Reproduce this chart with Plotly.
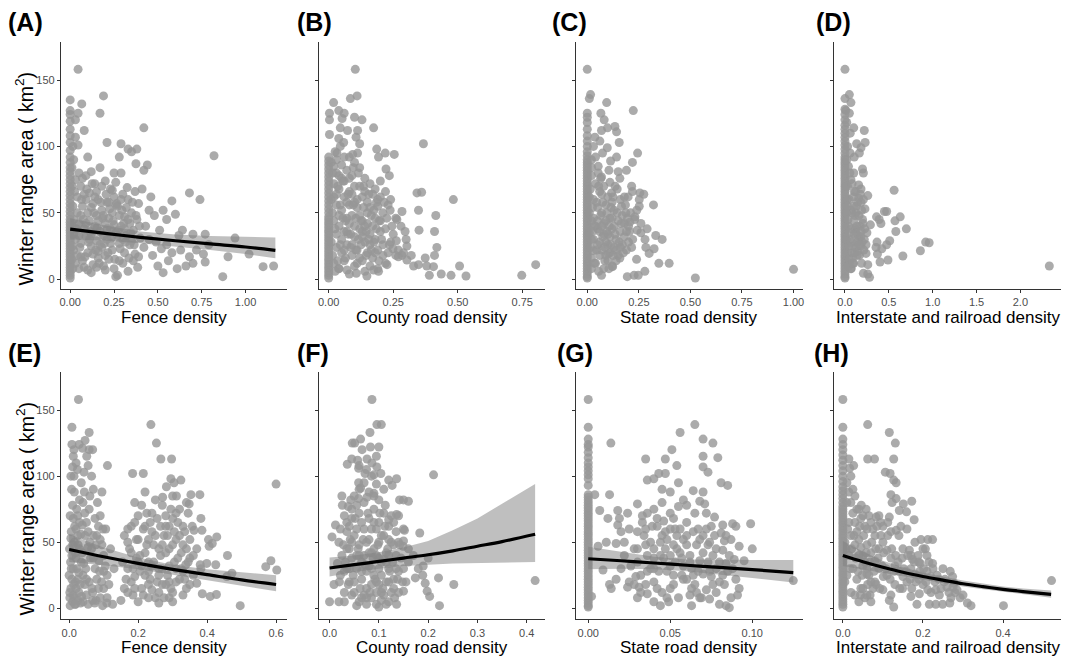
import plotly.graph_objects as go

# ---------------- data ----------------
# Top row: winter range area vs. covariate (points with x = 0 listed separately)
fence_top_zero_y = [1, 3, 5, 7, 9, 11, 13, 15, 17, 19, 21, 23, 25, 27, 29, 31, 33, 35, 37, 39, 41, 43, 45,
                    48, 51, 54, 57, 60, 63, 66, 69, 72, 75, 78, 81, 84, 88, 92, 97, 103, 108, 113, 119, 124,
                    127, 135]
fence_top_pts = [
    (0.045, 158), (0.19, 138), (0.066, 132), (0.17, 125), (0.045, 125), (0.03, 120), (0.08, 112), (0.03, 107),
    (0.045, 101), (0.21, 103), (0.29, 102), (0.42, 114), (0.33, 98), (0.38, 98), (0.35, 96), (0.375, 87),
    (0.44, 86), (0.42, 82), (0.28, 92), (0.10, 92), (0.29, 80), (0.25, 80), (0.17, 84), (0.05, 80), (0.12, 81),
    (0.82, 93),
    (0.03, 75), (0.06, 70), (0.09, 78), (0.11, 65), (0.14, 72), (0.16, 60), (0.2, 74), (0.23, 68), (0.26, 73),
    (0.3, 64), (0.33, 60), (0.37, 66), (0.39, 57), (0.04, 62), (0.07, 55), (0.1, 50), (0.13, 57), (0.15, 48),
    (0.18, 52), (0.21, 58), (0.24, 50), (0.27, 55), (0.31, 47), (0.35, 50), (0.38, 45), (0.02, 45), (0.05, 42),
    (0.08, 38), (0.11, 44), (0.14, 40), (0.17, 36), (0.2, 42), (0.23, 38), (0.26, 35), (0.29, 40), (0.32, 33),
    (0.36, 37), (0.4, 31), (0.03, 30), (0.06, 27), (0.09, 32), (0.12, 25), (0.15, 29), (0.18, 24), (0.21, 30),
    (0.24, 22), (0.28, 27), (0.31, 20), (0.34, 26), (0.37, 19), (0.04, 18), (0.07, 14), (0.1, 20), (0.13, 11),
    (0.16, 16), (0.19, 10), (0.22, 15), (0.25, 8), (0.27, 3), (0.3, 12), (0.33, 6), (0.36, 14), (0.39, 17),
    (0.05, 8), (0.08, 9), (0.12, 5), (0.2, 7), (0.26, 2), (0.15, 66), (0.22, 46), (0.34, 42), (0.09, 60),
    (0.19, 33), (0.28, 48), (0.06, 48), (0.12, 34), (0.25, 62), (0.32, 54), (0.02, 22), (0.16, 21), (0.3, 30),
    (0.45, 52), (0.48, 48), (0.53, 52), (0.58, 59), (0.6, 49), (0.55, 45), (0.51, 37), (0.64, 37), (0.68, 65),
    (0.74, 60), (0.7, 34), (0.77, 34), (0.62, 33), (0.94, 31), (0.55, 26), (0.52, 23), (0.63, 22), (0.72, 22),
    (0.76, 19), (0.68, 17), (0.7, 12), (0.77, 13), (0.9, 17), (1.02, 19), (1.1, 9.5), (1.16, 10), (0.87, 2),
    (0.45, 30), (0.43, 40), (0.47, 18), (0.5, 10), (0.56, 14), (0.42, 24), (0.46, 62), (0.41, 68), (0.49, 28),
    (0.58, 20), (0.53, 5), (0.61, 8), (0.66, 10), (0.79, 26),
    (0.015, 55), (0.025, 66), (0.035, 38), (0.055, 24), (0.065, 60), (0.075, 45), (0.085, 17), (0.095, 68),
    (0.105, 28), (0.115, 36), (0.125, 72), (0.135, 50), (0.145, 22), (0.155, 39), (0.165, 12), (0.175, 58),
    (0.185, 46), (0.195, 27), (0.205, 64), (0.215, 20), (0.225, 53), (0.235, 31), (0.245, 44), (0.255, 15),
    (0.265, 57), (0.275, 37), (0.285, 23), (0.295, 52), (0.305, 42), (0.315, 28), (0.325, 69), (0.335, 16),
    (0.345, 35), (0.355, 58), (0.365, 26), (0.375, 48), (0.385, 9), (0.395, 40), (0.01, 70), (0.02, 34),
    (0.03, 12), (0.04, 50), (0.05, 33), (0.06, 17), (0.07, 76), (0.08, 64), (0.09, 42), (0.1, 7), (0.11, 30),
    (0.12, 54), (0.13, 19), (0.14, 62), (0.15, 9), (0.16, 44), (0.17, 26), (0.18, 70), (0.19, 48), (0.2, 18),
    (0.21, 38), (0.22, 58), (0.23, 27), (0.24, 67), (0.25, 41), (0.26, 56), (0.27, 33), (0.28, 14), (0.29, 60),
    (0.31, 38), (0.33, 45), (0.35, 29), (0.01, 15), (0.02, 90), (0.015, 100), (0.01, 40), (0.012, 25),
    (0.01, 84), (0.015, 8)]

county_top_zero_y = [1, 3, 5, 7, 9, 11, 13, 15, 17, 19, 21, 23, 25, 27, 29, 31, 33, 35, 37, 39, 41, 43, 45, 47,
                     50, 53, 56, 59, 62, 65, 68, 71, 74, 77, 80, 83, 86, 89, 92]
county_top_pts = [
    (0.103, 158), (0.084, 136), (0.11, 138), (0.019, 133), (0.003, 125), (0.003, 120), (0.039, 127),
    (0.052, 121), (0.06, 125), (0.1, 122), (0.129, 120), (0.045, 114), (0.073, 112), (0.112, 112),
    (0.174, 114), (0.003, 109), (0.039, 106), (0.058, 103), (0.106, 107), (0.12, 102), (0.186, 98),
    (0.093, 94), (0.112, 95), (0.193, 92), (0.219, 95), (0.254, 94), (0.367, 102), (0.08, 92), (0.032, 95),
    (0.222, 83), (0.235, 78), (0.342, 65), (0.36, 65.5), (0.483, 60), (0.348, 52), (0.415, 48), (0.284, 51),
    (0.264, 45), (0.238, 52), (0.41, 36), (0.296, 36), (0.35, 37), (0.419, 24), (0.262, 29), (0.303, 25),
    (0.249, 23), (0.374, 16), (0.41, 18), (0.348, 11), (0.38, 10), (0.406, 9.5), (0.39, 3), (0.436, 4),
    (0.474, 3), (0.507, 10), (0.532, 2.5), (0.748, 3), (0.802, 11), (0.329, 10), (0.303, 14.5), (0.284, 18),
    (0.27, 17), (0.226, 11), (0.193, 6), (0.174, 7), (0.148, 2.5), (0.107, 4.5), (0.071, 7), (0.039, 8),
    (0.01, 88), (0.02, 85), (0.03, 80), (0.05, 86), (0.07, 82), (0.09, 78), (0.12, 84), (0.14, 76), (0.16, 72),
    (0.18, 68), (0.2, 74), (0.22, 66), (0.24, 60), (0.02, 72), (0.04, 68), (0.06, 74), (0.08, 66), (0.1, 70),
    (0.13, 62), (0.15, 58), (0.17, 64), (0.19, 55), (0.21, 50), (0.23, 56), (0.26, 46), (0.01, 60), (0.03, 56),
    (0.05, 52), (0.07, 58), (0.09, 48), (0.11, 54), (0.13, 44), (0.15, 50), (0.17, 40), (0.2, 44), (0.22, 38),
    (0.25, 34), (0.28, 40), (0.02, 44), (0.04, 40), (0.06, 36), (0.08, 42), (0.1, 32), (0.12, 38), (0.14, 28),
    (0.16, 34), (0.18, 30), (0.21, 26), (0.24, 28), (0.27, 22), (0.3, 30), (0.01, 28), (0.03, 24), (0.05, 20),
    (0.07, 26), (0.09, 18), (0.11, 22), (0.13, 14), (0.15, 20), (0.17, 16), (0.19, 22), (0.22, 12), (0.26, 18),
    (0.29, 20), (0.32, 18), (0.02, 12), (0.04, 8), (0.06, 14), (0.08, 4), (0.1, 10), (0.12, 16), (0.14, 6),
    (0.16, 10), (0.19, 8), (0.23, 20), (0.03, 64), (0.06, 62), (0.11, 60), (0.04, 78), (0.08, 56), (0.14, 66),
    (0.12, 48), (0.18, 46), (0.2, 36), (0.07, 46), (0.1, 40), (0.16, 26), (0.03, 34), (0.05, 30), (0.09, 26),
    (0.13, 32), (0.15, 42), (0.19, 60), (0.06, 92), (0.1, 88),
    (0.015, 50), (0.025, 38), (0.035, 70), (0.045, 26), (0.055, 46), (0.065, 16), (0.075, 64), (0.085, 34),
    (0.095, 56), (0.105, 22), (0.115, 80), (0.125, 44), (0.135, 54), (0.145, 36), (0.155, 64), (0.165, 22),
    (0.175, 52), (0.185, 38), (0.195, 14), (0.205, 30), (0.215, 58), (0.225, 46), (0.235, 26), (0.245, 40),
    (0.015, 18), (0.025, 6), (0.035, 14), (0.045, 56), (0.055, 74), (0.065, 44), (0.075, 34), (0.085, 24),
    (0.095, 84), (0.105, 46), (0.115, 30), (0.125, 26), (0.135, 70), (0.145, 18), (0.155, 30), (0.165, 48),
    (0.175, 28), (0.185, 58), (0.195, 44), (0.21, 18), (0.02, 62), (0.04, 48), (0.06, 22), (0.08, 76),
    (0.1, 58), (0.12, 70), (0.14, 40), (0.16, 54), (0.18, 20), (0.2, 62), (0.03, 90), (0.05, 76), (0.07, 36),
    (0.09, 64), (0.11, 12), (0.13, 36), (0.015, 80), (0.025, 96), (0.045, 100)]

state_top_zero_y = [1, 2, 4, 6, 8, 10, 12, 14, 16, 18, 20, 22, 24, 26, 28, 30, 32, 34, 36, 38, 40, 42, 44, 46,
                    48, 50, 52, 54, 56, 58, 60, 62, 64, 66, 68, 70, 72, 74, 76, 78, 80, 82, 84, 86, 88, 90, 93,
                    96, 100, 104, 108, 113, 118, 122, 125, 158]
state_top_pts = [
    (0.01, 136), (0.016, 139), (0.094, 133), (0.223, 127), (0.066, 125), (0.082, 120), (0.069, 112),
    (0.098, 114), (0.134, 115), (0.142, 111), (0.037, 107), (0.061, 104), (0.097, 99), (0.155, 103),
    (0.074, 95), (0.142, 92), (0.244, 95), (0.219, 88), (0.113, 89), (0.053, 85), (0.105, 82), (0.15, 81),
    (0.19, 82), (0.053, 80), (0.021, 84), (0.069, 77), (0.11, 73), (0.158, 76), (0.215, 70), (0.255, 65),
    (0.274, 64), (0.252, 60), (0.321, 56), (0.252, 55), (0.219, 66), (0.198, 62), (0.145, 68), (0.118, 65),
    (0.166, 55), (0.187, 50), (0.231, 47), (0.206, 43), (0.242, 37), (0.29, 38), (0.26, 35), (0.332, 33),
    (0.363, 30), (0.284, 24), (0.324, 23), (0.239, 15), (0.3, 19.5), (0.347, 12), (0.397, 12), (0.279, 6),
    (0.247, 3), (0.227, 3), (0.194, 2), (0.524, 1), (1.0, 7.5), (0.123, 9.5), (0.069, 3), (0.158, 16),
    (0.102, 19.5), (0.029, 21.5),
    (0.02, 78), (0.04, 72), (0.06, 66), (0.08, 70), (0.1, 62), (0.12, 58), (0.03, 60), (0.05, 54), (0.07, 50),
    (0.09, 56), (0.11, 46), (0.13, 52), (0.15, 44), (0.17, 48), (0.02, 44), (0.04, 40), (0.06, 36), (0.08, 42),
    (0.1, 34), (0.12, 38), (0.14, 30), (0.16, 36), (0.18, 32), (0.2, 28), (0.03, 30), (0.05, 26), (0.07, 22),
    (0.09, 28), (0.11, 20), (0.13, 24), (0.15, 18), (0.17, 26), (0.19, 22), (0.22, 30), (0.02, 16), (0.04, 12),
    (0.06, 18), (0.08, 8), (0.1, 14), (0.12, 10), (0.14, 22), (0.01, 50), (0.03, 46), (0.02, 30), (0.05, 38),
    (0.07, 64), (0.09, 44), (0.11, 32), (0.13, 40), (0.16, 60), (0.18, 42), (0.21, 50), (0.23, 45), (0.06, 28),
    (0.1, 26), (0.14, 14), (0.19, 36), (0.01, 35), (0.02, 8), (0.08, 34),
    (0.015, 68), (0.025, 54), (0.035, 40), (0.045, 22), (0.055, 70), (0.065, 48), (0.075, 32), (0.085, 14),
    (0.095, 50), (0.105, 40), (0.115, 26), (0.125, 62), (0.135, 34), (0.145, 50), (0.155, 28), (0.165, 42),
    (0.175, 20), (0.185, 56), (0.195, 46), (0.205, 36), (0.215, 24), (0.015, 24), (0.025, 36), (0.035, 12),
    (0.045, 58), (0.055, 6), (0.065, 76), (0.075, 58), (0.085, 24), (0.095, 36), (0.105, 8), (0.115, 54),
    (0.125, 18), (0.135, 70), (0.01, 62), (0.02, 90), (0.03, 100), (0.04, 92), (0.05, 44), (0.07, 40),
    (0.09, 18), (0.12, 46), (0.16, 24), (0.18, 62), (0.2, 40), (0.24, 52), (0.26, 42), (0.28, 30)]

inter_top_zero_y = [1, 2, 4, 6, 8, 10, 12, 14, 16, 18, 20, 22, 24, 26, 28, 30, 32, 34, 36, 38, 40, 42, 44, 46,
                    48, 50, 52, 54, 56, 58, 60, 62, 64, 66, 68, 70, 72, 74, 76, 78, 80, 82, 84, 86, 88, 90, 92,
                    95, 98, 101, 104, 107, 110, 113, 116, 120, 124, 128, 136, 158]
inter_top_pts = [
    (0.05, 139), (0.068, 133), (0.01, 127), (0.05, 125), (0.1, 114), (0.22, 112), (0.23, 103), (0.133, 102),
    (0.183, 99), (0.164, 95), (0.106, 92), (0.2, 83), (0.21, 80), (0.1, 80), (0.068, 75), (0.156, 71),
    (0.183, 68), (0.106, 66), (0.26, 63), (0.56, 67), (0.156, 61), (0.183, 58), (0.228, 53), (0.125, 50),
    (0.36, 47), (0.475, 51), (0.45, 51), (0.41, 42), (0.39, 45), (0.29, 41), (0.57, 44), (0.63, 47), (0.7, 38),
    (0.58, 36), (0.51, 29), (0.475, 26), (0.365, 28), (0.354, 24), (0.42, 23), (0.92, 28), (0.96, 27.5),
    (0.86, 21.5), (0.66, 17.5), (0.49, 14.5), (0.4, 13), (0.37, 19), (0.26, 11), (0.21, 4.5), (0.26, 4),
    (0.28, 1.5), (2.33, 10), (0.125, 35), (0.18, 32), (0.24, 26), (0.145, 21), (0.087, 16), (0.068, 8),
    (0.24, 19.5), (0.05, 12),
    (0.03, 70), (0.05, 60), (0.08, 50), (0.1, 44), (0.12, 38), (0.15, 33), (0.04, 40), (0.06, 30), (0.09, 25),
    (0.11, 20), (0.14, 28), (0.17, 40), (0.2, 45), (0.13, 55), (0.16, 48), (0.03, 20), (0.05, 15), (0.07, 8),
    (0.1, 12), (0.18, 25), (0.22, 30), (0.19, 52), (0.02, 50), (0.04, 85), (0.03, 100), (0.06, 110),
    (0.02, 118),
    (0.015, 30), (0.025, 60), (0.035, 45), (0.045, 25), (0.055, 80), (0.065, 52), (0.075, 38), (0.085, 20),
    (0.095, 62), (0.105, 34), (0.115, 48), (0.125, 24), (0.135, 40), (0.145, 58), (0.155, 30), (0.165, 18),
    (0.175, 64), (0.185, 36), (0.195, 28), (0.205, 42), (0.215, 22), (0.225, 38), (0.01, 70), (0.02, 90),
    (0.03, 55), (0.04, 10), (0.05, 35), (0.06, 95), (0.07, 28), (0.08, 72), (0.09, 12), (0.1, 55), (0.12, 66),
    (0.14, 18), (0.16, 26), (0.19, 12), (0.21, 60), (0.25, 35)]

# Bottom row
fence_bot_pts = [
    (0.027, 158), (0.008, 137), (0.058, 133), (0.046, 127), (0.029, 124), (0.014, 120), (0.039, 121),
    (0.058, 120), (0.068, 120), (0.008, 124), (0.051, 115), (0.055, 108), (0.111, 108), (0.01, 107),
    (0.024, 105), (0.014, 100), (0.043, 103), (0.184, 102), (0.215, 102), (0.237, 139), (0.253, 125),
    (0.266, 113), (0.297, 113), (0.295, 98), (0.304, 95), (0.324, 97), (0.282, 92), (0.271, 84), (0.311, 85),
    (0.353, 86), (0.379, 86), (0.348, 79), (0.382, 68), (0.357, 62), (0.385, 59), (0.404, 52), (0.415, 49),
    (0.428, 54), (0.406, 47), (0.399, 34), (0.425, 33), (0.382, 30), (0.37, 19), (0.386, 11), (0.409, 9),
    (0.427, 10.5), (0.459, 40), (0.457, 24), (0.472, 26.5), (0.496, 2), (0.57, 31.5), (0.585, 36),
    (0.602, 29), (0.6, 94), (0.362, 59), (0.338, 33), (0.068, 6), (0.097, 2), (0.109, 4), (0.126, 3),
    (0.15, 6),
    (0.0, 25), (0.005, 15), (0.01, 5), (0.003, 2), (0.012, 10), (0.018, 20), (0.022, 30), (0.008, 40),
    (0.015, 50), (0.005, 53), (0.02, 60), (0.025, 70), (0.01, 78), (0.03, 82), (0.015, 88), (0.035, 95),
    (0.04, 80), (0.045, 72), (0.05, 65), (0.055, 58), (0.06, 50), (0.065, 45), (0.07, 38), (0.075, 30),
    (0.08, 22), (0.085, 15), (0.09, 8), (0.03, 45), (0.035, 35), (0.04, 25), (0.045, 18), (0.05, 10),
    (0.055, 3), (0.028, 12), (0.033, 4), (0.06, 85), (0.07, 90), (0.065, 100), (0.075, 68), (0.08, 55),
    (0.085, 62), (0.09, 70), (0.095, 48), (0.1, 40), (0.105, 32), (0.11, 25), (0.1, 15), (0.095, 88),
    (0.02, 110), (0.005, 100), (0.012, 68), (0.02, 38), (0.025, 22), (0.04, 5), (0.048, 30), (0.058, 20),
    (0.068, 12), (0.078, 6), (0.088, 28), (0.098, 60), (0.115, 18), (0.12, 45), (0.13, 30), (0.025, 55),
    (0.038, 63), (0.002, 8), (0.006, 30), (0.013, 18), (0.017, 3), (0.001, 45),
    (0.002, 12), (0.004, 35), (0.006, 58), (0.008, 22), (0.01, 48), (0.012, 30), (0.014, 8), (0.016, 62),
    (0.018, 42), (0.02, 15), (0.022, 75), (0.024, 6), (0.026, 48), (0.028, 27), (0.03, 65), (0.032, 18),
    (0.034, 56), (0.036, 9), (0.038, 42), (0.042, 34), (0.044, 88), (0.046, 55), (0.05, 22), (0.054, 46),
    (0.058, 75), (0.062, 38), (0.066, 15), (0.07, 55), (0.074, 4), (0.078, 48), (0.082, 80), (0.086, 36),
    (0.09, 52), (0.094, 20), (0.1, 28), (0.106, 60), (0.11, 8), (0.003, 70), (0.007, 90), (0.012, 115),
    (0.018, 3),
    (0.16, 55), (0.17, 30), (0.175, 45), (0.18, 20), (0.185, 10), (0.19, 65), (0.195, 38), (0.2, 52),
    (0.205, 28), (0.21, 15), (0.215, 60), (0.22, 42), (0.225, 72), (0.23, 35), (0.235, 22), (0.24, 58),
    (0.245, 48), (0.25, 8), (0.255, 68), (0.26, 30), (0.265, 40), (0.27, 18), (0.275, 55), (0.28, 62),
    (0.285, 25), (0.29, 45), (0.295, 75), (0.3, 12), (0.305, 35), (0.31, 52), (0.315, 65), (0.32, 22),
    (0.325, 42), (0.33, 28), (0.335, 58), (0.34, 15), (0.345, 72), (0.35, 38), (0.19, 80), (0.21, 78),
    (0.25, 82), (0.28, 70), (0.3, 68), (0.3, 5), (0.26, 12), (0.2, 5), (0.17, 60), (0.22, 25), (0.27, 48),
    (0.31, 30), (0.24, 32), (0.29, 20), (0.18, 42), (0.23, 52), (0.33, 48), (0.36, 25), (0.37, 45),
    (0.38, 33), (0.26, 4), (0.29, 8), (0.33, 10), (0.35, 18), (0.23, 18), (0.2, 35), (0.16, 15),
    (0.155, 35), (0.165, 22), (0.17, 50), (0.18, 62), (0.185, 30), (0.19, 15), (0.195, 52), (0.2, 70),
    (0.205, 40), (0.21, 32), (0.215, 10), (0.22, 62), (0.225, 48), (0.23, 28), (0.235, 65), (0.24, 14),
    (0.245, 35), (0.25, 55), (0.255, 20), (0.26, 45), (0.265, 62), (0.27, 30), (0.275, 8), (0.28, 42),
    (0.285, 55), (0.29, 32), (0.295, 15), (0.3, 48), (0.305, 58), (0.31, 20), (0.315, 38), (0.32, 55),
    (0.325, 30), (0.33, 62), (0.335, 22), (0.34, 45), (0.345, 35), (0.35, 52), (0.36, 40), (0.22, 88),
    (0.24, 72), (0.27, 78), (0.3, 85), (0.32, 75), (0.29, 62), (0.31, 72), (0.34, 80), (0.26, 25),
    (0.28, 18), (0.23, 8), (0.19, 24), (0.17, 12)]

county_bot_pts = [
    (0.086, 158), (0.096, 139), (0.105, 139), (0.082, 133), (0.063, 128), (0.046, 125), (0.051, 125),
    (0.083, 122), (0.1, 122), (0.066, 120), (0.045, 113), (0.036, 109), (0.057, 112), (0.076, 113),
    (0.086, 110), (0.095, 115), (0.096, 107), (0.059, 106), (0.072, 102), (0.09, 101), (0.104, 102),
    (0.12, 97), (0.136, 98), (0.211, 101), (0.127, 93), (0.059, 95), (0.095, 94), (0.063, 91), (0.09, 87),
    (0.059, 83), (0.043, 82), (0.026, 78), (0.038, 77), (0.076, 84), (0.113, 78), (0.142, 82), (0.16, 81),
    (0.15, 82), (0.136, 71), (0.12, 67), (0.152, 59), (0.183, 57), (0.012, 63), (0.005, 54), (0.019, 50),
    (0.15, 51), (0.149, 47), (0.174, 23), (0.189, 25), (0.194, 19), (0.221, 23), (0.198, 13), (0.203, 9),
    (0.252, 18), (0.223, 2), (0.417, 21), (0.15, 13), (0.136, 3), (0.1, 1), (0.019, 5), (0.0, 5),
    (0.009, 18), (0.022, 25), (0.016, 34),
    (0.03, 70), (0.04, 62), (0.05, 55), (0.06, 48), (0.07, 40), (0.08, 32), (0.09, 25), (0.1, 18), (0.11, 10),
    (0.12, 5), (0.13, 15), (0.14, 28), (0.035, 45), (0.045, 38), (0.055, 30), (0.065, 22), (0.075, 15),
    (0.085, 8), (0.095, 3), (0.105, 35), (0.115, 42), (0.125, 50), (0.135, 58), (0.145, 38), (0.03, 28),
    (0.04, 20), (0.05, 12), (0.06, 5), (0.07, 60), (0.08, 68), (0.09, 75), (0.1, 65), (0.11, 55), (0.12, 30),
    (0.13, 22), (0.14, 12), (0.06, 72), (0.07, 80), (0.08, 52), (0.09, 45), (0.1, 50), (0.11, 72), (0.12, 62),
    (0.05, 85), (0.065, 35), (0.075, 28), (0.085, 42), (0.095, 60), (0.105, 25), (0.115, 20), (0.125, 12),
    (0.135, 40), (0.045, 10), (0.055, 2), (0.065, 8), (0.075, 3), (0.085, 18), (0.095, 12), (0.105, 6),
    (0.115, 3), (0.025, 40), (0.02, 20), (0.03, 12), (0.035, 58), (0.045, 68), (0.055, 78), (0.04, 30),
    (0.08, 88), (0.07, 95), (0.06, 40), (0.1, 30), (0.12, 40), (0.13, 48), (0.15, 30), (0.155, 20),
    (0.16, 45), (0.09, 85), (0.1, 82), (0.085, 60), (0.11, 37), (0.12, 20), (0.14, 50), (0.15, 60),
    (0.16, 35), (0.17, 40), (0.18, 30), (0.2, 38), (0.19, 32),
    (0.022, 60), (0.028, 48), (0.032, 35), (0.038, 18), (0.042, 52), (0.048, 25), (0.052, 68), (0.058, 45),
    (0.062, 15), (0.068, 52), (0.072, 33), (0.078, 72), (0.082, 12), (0.088, 38), (0.092, 22), (0.098, 48),
    (0.102, 72), (0.108, 15), (0.112, 62), (0.118, 45), (0.122, 28), (0.128, 35), (0.132, 8), (0.138, 22),
    (0.142, 48), (0.148, 20), (0.025, 85), (0.035, 30), (0.045, 50), (0.055, 40), (0.065, 65), (0.075, 50),
    (0.085, 30), (0.095, 40), (0.105, 55), (0.115, 35), (0.125, 70), (0.135, 30), (0.03, 5), (0.04, 45),
    (0.05, 20), (0.06, 90), (0.07, 10), (0.08, 42), (0.09, 65), (0.1, 38), (0.11, 90), (0.12, 52), (0.13, 65),
    (0.14, 70), (0.105, 12), (0.095, 20), (0.075, 8), (0.065, 28), (0.055, 60), (0.045, 75), (0.035, 65),
    (0.085, 100), (0.075, 105), (0.06, 108)]

state_bot_zero_y = [1, 2, 4, 6, 8, 10, 12, 14, 16, 18, 20, 22, 24, 26, 28, 30, 32, 34, 36, 38, 40, 42, 44, 46,
                    48, 50, 52, 54, 56, 58, 60, 62, 64, 66, 68, 70, 72, 74, 76, 78, 80, 82, 84, 86, 93, 98, 101,
                    104, 107, 110, 114, 118, 122, 124, 128, 137, 158]
state_bot_pts = [
    (0.0138, 125), (0.004, 86), (0.007, 74), (0.013, 86), (0.018, 74), (0.012, 68), (0.018, 63), (0.02, 58),
    (0.006, 47), (0.011, 50), (0.017, 49), (0.024, 72), (0.019, 68), (0.03, 79), (0.036, 72), (0.033, 65),
    (0.035, 113), (0.036, 97), (0.04, 98), (0.043, 102), (0.047, 102), (0.047, 113), (0.051, 120),
    (0.056, 133), (0.065, 139), (0.07, 128), (0.076, 125), (0.07, 115), (0.079, 114), (0.054, 108),
    (0.07, 107), (0.073, 103), (0.081, 95), (0.085, 93), (0.064, 89), (0.07, 88), (0.068, 81), (0.071, 79),
    (0.072, 72), (0.077, 69), (0.075, 62), (0.082, 63), (0.081, 57), (0.083, 51), (0.088, 64), (0.09, 62),
    (0.099, 64), (0.092, 47), (0.089, 37), (0.092, 15), (0.091, 10), (0.084, 2), (0.086, 0.5), (0.08, 3),
    (0.074, 7), (0.069, 8), (0.063, 2), (0.125, 21), (0.009, 29), (0.013, 18), (0.014, 15), (0.002, 9),
    (0.024, 16), (0.029, 24), (0.031, 16), (0.036, 11), (0.04, 5), (0.044, 2), (0.049, 5),
    (0.025, 60), (0.028, 45), (0.03, 35), (0.032, 25), (0.034, 55), (0.036, 40), (0.038, 30), (0.04, 20),
    (0.042, 62), (0.044, 50), (0.046, 38), (0.048, 28), (0.05, 15), (0.052, 68), (0.054, 55), (0.056, 42),
    (0.058, 32), (0.06, 22), (0.062, 10), (0.064, 58), (0.066, 48), (0.068, 36), (0.07, 26), (0.072, 14),
    (0.074, 50), (0.076, 40), (0.078, 30), (0.08, 20), (0.082, 44), (0.084, 34), (0.04, 75), (0.045, 80),
    (0.05, 88), (0.055, 77), (0.06, 65), (0.03, 8), (0.035, 48), (0.045, 12), (0.055, 8), (0.065, 18),
    (0.075, 24), (0.085, 28), (0.09, 22), (0.095, 36), (0.1, 45), (0.05, 60), (0.058, 52), (0.062, 40),
    (0.047, 45), (0.053, 35), (0.057, 25), (0.067, 60), (0.043, 28), (0.039, 62), (0.033, 70), (0.028, 18),
    (0.022, 40), (0.02, 30), (0.017, 22), (0.06, 78), (0.07, 55), (0.078, 12), (0.087, 52), (0.047, 58),
    (0.052, 25), (0.063, 30), (0.068, 8), (0.073, 35), (0.05, 40), (0.04, 38),
    (0.022, 50), (0.026, 32), (0.03, 58), (0.032, 12), (0.036, 28), (0.038, 50), (0.04, 30), (0.042, 15),
    (0.044, 40), (0.046, 66), (0.048, 52), (0.05, 32), (0.052, 18), (0.054, 45), (0.056, 60), (0.058, 22),
    (0.06, 48), (0.062, 35), (0.064, 25), (0.066, 12), (0.068, 52), (0.07, 42), (0.072, 60), (0.074, 28),
    (0.076, 18), (0.078, 45), (0.08, 35), (0.082, 25), (0.084, 55), (0.086, 40), (0.088, 30), (0.045, 90),
    (0.05, 72), (0.055, 95), (0.058, 82), (0.065, 72), (0.06, 55), (0.045, 55), (0.035, 60), (0.04, 45),
    (0.052, 48), (0.057, 38), (0.063, 15), (0.067, 28), (0.073, 48), (0.077, 55), (0.083, 18), (0.087, 8),
    (0.025, 20), (0.03, 45), (0.035, 18), (0.048, 8), (0.053, 60), (0.042, 68)]

inter_bot_zero_y = [1, 3, 5, 7, 9, 11, 13, 15, 17, 19, 21, 23, 25, 27, 29, 31, 33, 35, 37, 39, 41, 43, 45, 47,
                    49, 51, 53, 55, 57, 59, 61, 63, 65, 67, 69, 71, 73, 75, 77, 80, 83, 86, 89, 92, 96, 100, 104,
                    108, 112, 116, 120, 124, 128, 137, 158]
inter_bot_pts = [
    (0.062, 139), (0.116, 133), (0.131, 125), (0.062, 113), (0.079, 113), (0.127, 113), (0.027, 108),
    (0.106, 103), (0.118, 102), (0.127, 97), (0.133, 95), (0.015, 113), (0.017, 106), (0.046, 78),
    (0.058, 75), (0.083, 69), (0.094, 65), (0.12, 86), (0.123, 80), (0.133, 83), (0.151, 79), (0.172, 81),
    (0.141, 74), (0.159, 73), (0.178, 67), (0.112, 65), (0.116, 69), (0.133, 59), (0.145, 62), (0.195, 52),
    (0.212, 52), (0.224, 52), (0.206, 45), (0.166, 44), (0.174, 37), (0.193, 34), (0.224, 34), (0.268, 28),
    (0.274, 24), (0.253, 20), (0.278, 19), (0.293, 8), (0.311, 4), (0.32, 2), (0.267, 4), (0.249, 3),
    (0.232, 3), (0.216, 3), (0.185, 3), (0.401, 2), (0.521, 21), (0.116, 6), (0.127, 1), (0.068, 10),
    (0.044, 10), (0.083, 18), (0.101, 24), (0.149, 15), (0.17, 9), (0.191, 11), (0.212, 14), (0.232, 14),
    (0.241, 10),
    (0.01, 95), (0.015, 88), (0.02, 80), (0.025, 72), (0.03, 65), (0.035, 58), (0.04, 52), (0.045, 46),
    (0.05, 40), (0.055, 35), (0.06, 30), (0.065, 25), (0.07, 20), (0.075, 15), (0.02, 55), (0.03, 48),
    (0.04, 40), (0.05, 32), (0.06, 26), (0.07, 42), (0.08, 36), (0.09, 30), (0.1, 50), (0.11, 44), (0.12, 38),
    (0.13, 32), (0.14, 28), (0.15, 24), (0.16, 20), (0.17, 30), (0.18, 26), (0.19, 22), (0.2, 18), (0.21, 28),
    (0.22, 24), (0.23, 20), (0.15, 45), (0.14, 55), (0.12, 58), (0.1, 62), (0.08, 55), (0.06, 60), (0.05, 70),
    (0.04, 75), (0.03, 85), (0.025, 30), (0.035, 22), (0.045, 15), (0.055, 8), (0.015, 40), (0.01, 25),
    (0.02, 12), (0.09, 45), (0.11, 25), (0.13, 18), (0.17, 40), (0.19, 35), (0.21, 40), (0.25, 30),
    (0.24, 22), (0.26, 16), (0.28, 12), (0.3, 10), (0.08, 20), (0.1, 14), (0.12, 10), (0.06, 48), (0.07, 65),
    (0.09, 70), (0.16, 60), (0.18, 50), (0.2, 45), (0.22, 12), (0.27, 8), (0.015, 65), (0.005, 50),
    (0.005, 20), (0.008, 45), (0.012, 60), (0.018, 30), (0.022, 45), (0.028, 55), (0.032, 38), (0.038, 28),
    (0.042, 62), (0.048, 25), (0.052, 55), (0.058, 42), (0.062, 18), (0.068, 35), (0.072, 50), (0.078, 28),
    (0.082, 45), (0.088, 38), (0.092, 15), (0.098, 32), (0.102, 42), (0.108, 30), (0.112, 55), (0.118, 22),
    (0.122, 45), (0.128, 28), (0.132, 40), (0.138, 35), (0.142, 15), (0.148, 38), (0.152, 30), (0.158, 28),
    (0.162, 40), (0.168, 22), (0.172, 15), (0.178, 35), (0.182, 20), (0.188, 40), (0.192, 28), (0.198, 25),
    (0.202, 30), (0.208, 20), (0.215, 35), (0.225, 30), (0.235, 25), (0.245, 15), (0.255, 22), (0.265, 12),
    (0.275, 16), (0.285, 14), (0.01, 80), (0.02, 100), (0.025, 90), (0.035, 75), (0.045, 68), (0.055, 62),
    (0.065, 70), (0.075, 60), (0.085, 62), (0.095, 55), (0.03, 10), (0.04, 5), (0.05, 15), (0.06, 10),
    (0.07, 5)]

# Fitted curves with confidence bands
fence_top_fit_x = [0, 0.2, 0.4, 0.6, 0.8, 1.0, 1.17]
fence_top_fit_y = [37.8, 34.6, 31.6, 29.0, 26.6, 24.3, 21.8]
fence_top_fit_lo = [30.0, 29.2, 27.2, 24.8, 22.0, 19.0, 15.8]
fence_top_fit_hi = [46.0, 40.5, 36.0, 33.8, 32.5, 31.8, 31.5]

fence_bot_fit_x = [0, 0.1, 0.2, 0.3, 0.4, 0.5, 0.6]
fence_bot_fit_y = [44.5, 39.0, 34.0, 29.5, 25.5, 21.5, 18.0]
fence_bot_fit_lo = [35.0, 32.5, 29.5, 25.5, 21.0, 17.0, 13.0]
fence_bot_fit_hi = [56.0, 46.0, 38.5, 33.0, 29.5, 27.0, 25.0]

county_bot_fit_x = [0, 0.05, 0.1, 0.15, 0.2, 0.25, 0.3, 0.35, 0.417]
county_bot_fit_y = [30.5, 33.0, 35.5, 38.0, 40.5, 43.5, 47.0, 50.5, 56.0]
county_bot_fit_lo = [24.0, 27.5, 30.0, 32.0, 33.0, 34.0, 34.5, 34.8, 35.0]
county_bot_fit_hi = [38.5, 40.0, 42.5, 46.0, 51.0, 59.0, 68.0, 79.0, 94.0]

state_bot_fit_x = [0, 0.02, 0.04, 0.06, 0.08, 0.1, 0.125]
state_bot_fit_y = [37.5, 36.0, 34.3, 32.6, 31.0, 29.3, 27.0]
state_bot_fit_lo = [29.5, 30.0, 29.5, 28.0, 25.5, 23.0, 19.5]
state_bot_fit_hi = [46.5, 42.5, 39.0, 37.0, 36.5, 36.5, 36.5]

inter_bot_fit_x = [0, 0.05, 0.1, 0.15, 0.2, 0.25, 0.3, 0.35, 0.4, 0.45, 0.52]
inter_bot_fit_y = [40.0, 35.3, 31.1, 27.3, 24.1, 21.3, 18.6, 16.4, 14.4, 12.7, 10.6]
inter_bot_fit_lo = [32.0, 29.5, 27.0, 24.5, 21.5, 19.0, 16.5, 14.5, 12.5, 10.5, 8.0]
inter_bot_fit_hi = [51.0, 43.0, 36.0, 31.0, 27.0, 24.0, 21.0, 18.8, 16.5, 15.0, 13.5]

# Axis titles, panel labels and tick labels
panel_labels = ["(A)", "(B)", "(C)", "(D)", "(E)", "(F)", "(G)", "(H)"]
x_titles = ["Fence density", "County road density", "State road density", "Interstate and railroad density",
            "Fence density", "County road density", "State road density", "Interstate and railroad density"]
y_title = "Winter range area ( km<sup>2</sup>)"
y_tickvals = [0, 50, 100, 150]
x_tickvals = [[0, 0.25, 0.5, 0.75, 1.0], [0, 0.25, 0.5, 0.75], [0, 0.25, 0.5, 0.75, 1.0], [0, 0.5, 1.0, 1.5, 2.0],
              [0, 0.2, 0.4, 0.6], [0, 0.1, 0.2, 0.3, 0.4], [0, 0.05, 0.10], [0, 0.2, 0.4]]
x_ticktext = [["0.00", "0.25", "0.50", "0.75", "1.00"], ["0.00", "0.25", "0.50", "0.75"],
              ["0.00", "0.25", "0.50", "0.75", "1.00"], ["0.0", "0.5", "1.0", "1.5", "2.0"],
              ["0.0", "0.2", "0.4", "0.6"], ["0.0", "0.1", "0.2", "0.3", "0.4"], ["0.00", "0.05", "0.10"],
              ["0.0", "0.2", "0.4"]]

# ---------------- layout geometry (pixels) ----------------
W, H = 1077, 661
col_px = [(60, 287), (318.3, 545), (576, 803.3), (835, 1061.7)]
row_px = [(42, 289), (371.7, 619.3)]
x_ranges = [[-0.053, 1.239], [-0.0387, 0.838], [-0.055, 1.045], [-0.12, 2.46],
            [-0.024, 0.633], [-0.022, 0.437], [-0.0075, 0.1308], [-0.021, 0.544]]
y_ranges = [[-7.3, 178.6], [-8.3, 179.0]]
label_x_px = [5, 295, 550, 815, 5, 295, 555, 813]
label_y_px = [22, 353]

panels = [
    (fence_top_pts, fence_top_zero_y, (fence_top_fit_x, fence_top_fit_y, fence_top_fit_lo, fence_top_fit_hi)),
    (county_top_pts, county_top_zero_y, None),
    (state_top_pts, state_top_zero_y, None),
    (inter_top_pts, inter_top_zero_y, None),
    (fence_bot_pts, [], (fence_bot_fit_x, fence_bot_fit_y, fence_bot_fit_lo, fence_bot_fit_hi)),
    (county_bot_pts, [], (county_bot_fit_x, county_bot_fit_y, county_bot_fit_lo, county_bot_fit_hi)),
    (state_bot_pts, state_bot_zero_y, (state_bot_fit_x, state_bot_fit_y, state_bot_fit_lo, state_bot_fit_hi)),
    (inter_bot_pts, inter_bot_zero_y, (inter_bot_fit_x, inter_bot_fit_y, inter_bot_fit_lo, inter_bot_fit_hi)),
]

FONT = "Liberation Sans, Arial, sans-serif"
fig = go.Figure()
layout = dict(width=W, height=H, margin=dict(l=0, r=0, t=0, b=0), paper_bgcolor="white",
              plot_bgcolor="white", showlegend=False, font=dict(family=FONT))
annotations = []

for i, (pts, zero_y, fit) in enumerate(panels):
    r, c = divmod(i, 4)
    n = "" if i == 0 else str(i + 1)
    xs = [0.0] * len(zero_y) + [p[0] for p in pts]
    ys = list(zero_y) + [p[1] for p in pts]
    fig.add_trace(go.Scatter(x=xs, y=ys, mode="markers", xaxis="x" + n, yaxis="y" + n,
                             marker=dict(size=9, color="rgba(150,150,150,0.8)", line=dict(width=0)),
                             hoverinfo="skip"))
    if fit is not None:
        fx, fy, flo, fhi = fit
        fig.add_trace(go.Scatter(x=list(fx) + list(fx)[::-1], y=list(fhi) + list(flo)[::-1],
                                 fill="toself", fillcolor="rgba(128,128,128,0.5)", mode="lines",
                                 line=dict(width=0), xaxis="x" + n, yaxis="y" + n, hoverinfo="skip"))
        fig.add_trace(go.Scatter(x=fx, y=fy, mode="lines", line=dict(color="black", width=3.2, shape="spline"),
                                 xaxis="x" + n, yaxis="y" + n, hoverinfo="skip"))
    x0, x1 = col_px[c]
    y0, y1 = row_px[r]
    axis_common = dict(showgrid=False, zeroline=False, showline=True, linecolor="#333333", linewidth=1.1,
                       ticks="outside", ticklen=3, tickwidth=1, tickcolor="#333333",
                       tickfont=dict(size=11, color="#4d4d4d", family=FONT))
    layout["xaxis" + n] = dict(domain=[x0 / W, x1 / W], range=x_ranges[i], anchor="y" + n,
                               tickvals=x_tickvals[i], ticktext=x_ticktext[i], **axis_common)
    layout["yaxis" + n] = dict(domain=[1 - y1 / H, 1 - y0 / H], range=y_ranges[r], anchor="x" + n,
                               tickvals=y_tickvals, showticklabels=(c == 0), **axis_common)
    # x title
    annotations.append(dict(text=x_titles[i], x=(x0 + x1) / 2 / W, y=1 - (y1 + 28) / H, xref="paper",
                            yref="paper", showarrow=False, xanchor="center", yanchor="middle",
                            font=dict(size=17, color="black", family=FONT)))
    # panel label
    annotations.append(dict(text="<b>%s</b>" % panel_labels[i], x=label_x_px[i] / W, y=1 - label_y_px[r] / H,
                            xref="paper", yref="paper", showarrow=False, xanchor="left", yanchor="middle",
                            font=dict(size=25, color="black", family=FONT)))
    if c == 0:
        annotations.append(dict(text=y_title, x=24 / W, y=1 - ((y0 + y1) / 2 + 13) / H, xref="paper",
                                yref="paper", showarrow=False, textangle=-90, xanchor="center",
                                yanchor="middle", font=dict(size=19.5, color="black", family=FONT)))

layout["annotations"] = annotations
fig.update_layout(**layout)
fig.write_html("out.html", config={"displayModeBar": False},
               post_script="document.body.style.margin='0px';")
